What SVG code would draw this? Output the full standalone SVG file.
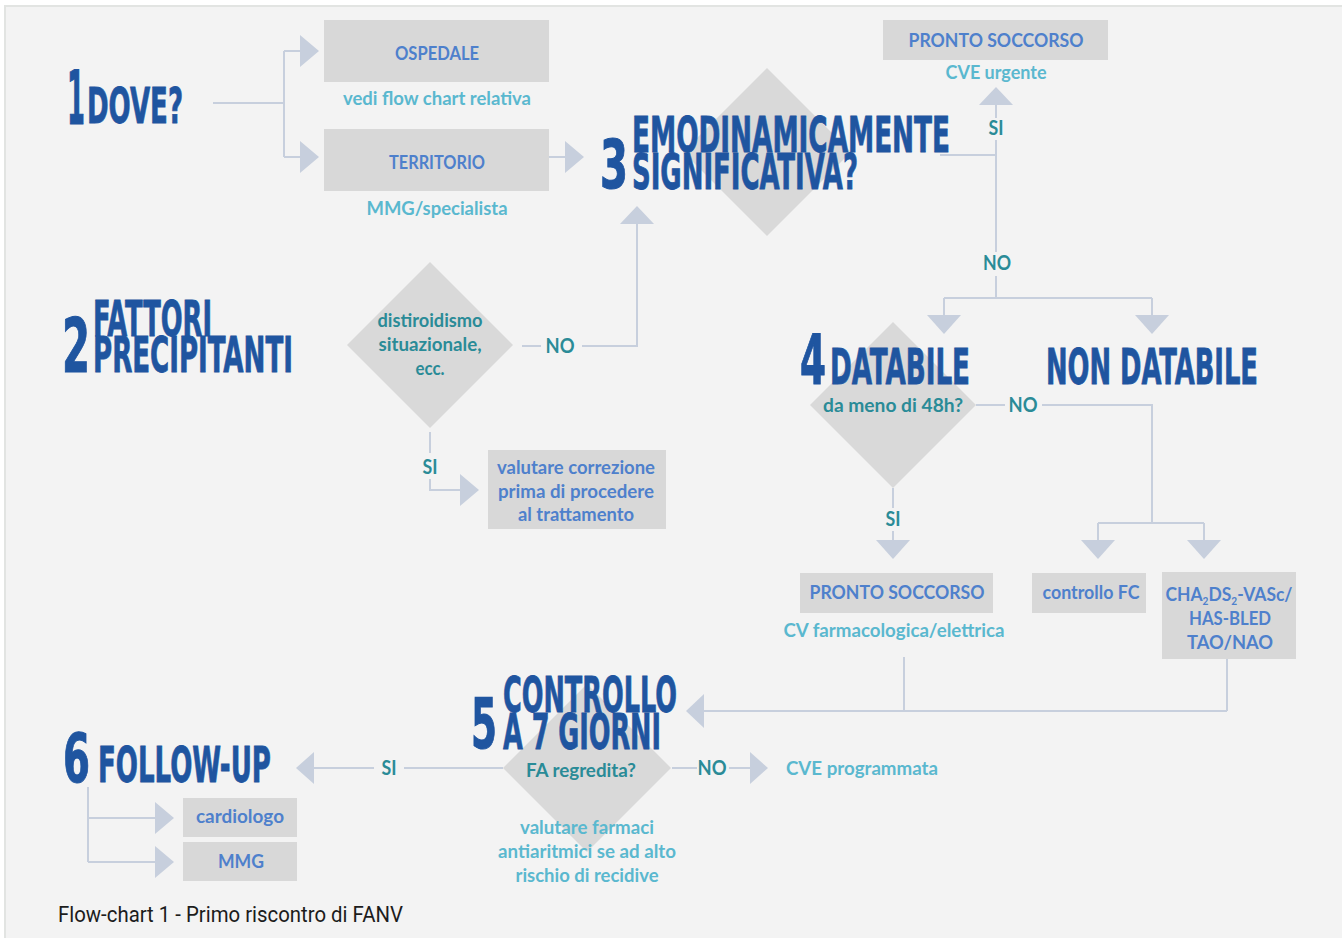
<svg xmlns="http://www.w3.org/2000/svg" width="1342" height="938" viewBox="0 0 1342 938">
  <style>
    .panel { fill: #f3f3f3; stroke: #e2e4e2; stroke-width: 2; }
    .box { fill: #d8d8d8; }
    .dia { fill: #d9d9d9; }
    .ttl { font-family: "DejaVu Sans Condensed", "DejaVu Sans", sans-serif; font-weight: bold; font-size: 49px; fill: #1f55a0; stroke: #1f55a0; stroke-width: 0.8; }
    .num { font-family: "DejaVu Sans Condensed", "DejaVu Sans", sans-serif; font-weight: bold; fill: #1f55a0; stroke: #1f55a0; stroke-width: 1; }
    .bx { font-family: Lato, "Open Sans", sans-serif; font-weight: 700; font-size: 19px; fill: #4e80cc; text-anchor: middle; }
    .sub { font-family: Lato, "Open Sans", sans-serif; font-weight: 700; font-size: 19px; fill: #5ab8cf; text-anchor: middle; }
    .q { font-family: Lato, "Open Sans", sans-serif; font-weight: 700; font-size: 19px; fill: #2a8b97; text-anchor: middle; }
    .lbl { font-family: Lato, "Open Sans", sans-serif; font-weight: 700; font-size: 20px; fill: #2a8b97; text-anchor: middle; }
    .cap { font-family: Roboto, "Liberation Sans", sans-serif; font-size: 22px; fill: #1c1c1c; }
    .ln { fill: none; stroke: #c7cfdd; stroke-width: 2; }
    .tri { fill: #c7cfdd; }
  </style>

  <!-- page panel -->
  <rect class="panel" x="5" y="6" width="1345" height="940"/>

  <!-- connectors -->
  <g id="connectors">
    <!-- 1: dove? -> ospedale / territorio -->
    <path class="ln" d="M213 103 H284 M284 51 V157 M284 51 H301 M284 157 H301"/>
    <polygon class="tri" points="300,35 319,51 300,67"/>
    <polygon class="tri" points="300,141 319,157 300,173"/>
    <!-- territorio -> 3 -->
    <path class="ln" d="M549 157 H566"/>
    <polygon class="tri" points="565,141 584,157 565,173"/>
    <!-- 2 NO -> 3 -->
    <path class="ln" d="M522 346 H541 M582 346 H637 V223"/>
    <polygon class="tri" points="620,224 637,206 654,224"/>
    <!-- 2 SI -> valutare correzione -->
    <path class="ln" d="M430 432 V453 M430 479 V490 H461"/>
    <polygon class="tri" points="460,474 479,490 460,506"/>
    <!-- 3 SI / NO -->
    <path class="ln" d="M940 155 H996 M996 104 V118 M996 140 V252 M996 276 V298 M944 298 H1152 M944 298 V316 M1152 298 V316"/>
    <polygon class="tri" points="979,105 996,87 1013,105"/>
    <polygon class="tri" points="927,315 944,334 961,315"/>
    <polygon class="tri" points="1135,315 1152,334 1169,315"/>
    <!-- 4 NO -> controllo FC / CHA2DS2-VASc -->
    <path class="ln" d="M976 405 H1005 M1042 405 H1152 V523 M1098 523 H1204 M1098 523 V541 M1204 523 V541"/>
    <polygon class="tri" points="1081,540 1098,559 1115,540"/>
    <polygon class="tri" points="1187,540 1204,559 1221,540"/>
    <!-- 4 SI -> pronto soccorso -->
    <path class="ln" d="M893 488 V508 M893 531 V541"/>
    <polygon class="tri" points="876,540 893,559 910,540"/>
    <!-- -> 5 -->
    <path class="ln" d="M904 657 V711 M1227 659 V711 M703 711 H1227"/>
    <polygon class="tri" points="704,694 686,711 704,728"/>
    <!-- 5 SI -> 6 ; 5 NO -> CVE programmata -->
    <path class="ln" d="M503 768 H404 M374 768 H313"/>
    <polygon class="tri" points="314,752 296,768 314,784"/>
    <path class="ln" d="M672 768 H697 M729 768 H751"/>
    <polygon class="tri" points="750,752 768,768 750,784"/>
    <!-- 6 -> cardiologo / MMG -->
    <path class="ln" d="M88 787 V862 M88 818 H156 M88 862 H156"/>
    <polygon class="tri" points="155,802 174,818 155,834"/>
    <polygon class="tri" points="155,846 174,862 155,878"/>
  </g>

  <!-- step 1 -->
  <g id="step1">
    <text class="num" transform="translate(67 124) scale(0.6 1)" font-size="74" textLength="30" lengthAdjust="spacingAndGlyphs">1</text>
    <text class="ttl" transform="translate(87 123) scale(0.6 1)" font-size="52" textLength="160" lengthAdjust="spacingAndGlyphs">DOVE?</text>
  </g>
  <g id="ospedale">
    <rect class="box" x="324" y="20" width="225" height="62"/>
    <text class="bx" x="437" y="60" textLength="84" lengthAdjust="spacingAndGlyphs">OSPEDALE</text>
    <text class="sub" x="437" y="105" textLength="188" lengthAdjust="spacingAndGlyphs">vedi flow chart relativa</text>
  </g>
  <g id="territorio">
    <rect class="box" x="324" y="129" width="225" height="62"/>
    <text class="bx" x="437" y="169" textLength="96" lengthAdjust="spacingAndGlyphs">TERRITORIO</text>
    <text class="sub" x="437" y="215" textLength="141" lengthAdjust="spacingAndGlyphs">MMG/specialista</text>
  </g>

  <!-- step 3 -->
  <g id="step3">
    <polygon class="dia" points="767,68 851,152 767,236 683,152"/>
    <text class="num" transform="translate(600 188) scale(0.6 1)" font-size="68" textLength="46.7" lengthAdjust="spacingAndGlyphs">3</text>
    <text class="ttl" transform="translate(632 152) scale(0.6 1)" textLength="530" lengthAdjust="spacingAndGlyphs">EMODINAMICAMENTE</text>
    <text class="ttl" transform="translate(632 189) scale(0.6 1)" textLength="376.7" lengthAdjust="spacingAndGlyphs">SIGNIFICATIVA?</text>
    <text class="lbl" x="996" y="135" textLength="15" lengthAdjust="spacingAndGlyphs">SI</text>
    <text class="lbl" x="997" y="270" textLength="28" lengthAdjust="spacingAndGlyphs">NO</text>
  </g>
  <g id="pronto-soccorso-urgente">
    <rect class="box" x="883" y="20" width="225" height="40"/>
    <text class="bx" x="996" y="47" textLength="175" lengthAdjust="spacingAndGlyphs">PRONTO SOCCORSO</text>
    <text class="sub" x="996" y="79" textLength="101" lengthAdjust="spacingAndGlyphs">CVE urgente</text>
  </g>

  <!-- step 2 -->
  <g id="step2">
    <text class="num" transform="translate(62 372) scale(0.6 1)" font-size="74" textLength="46.7" lengthAdjust="spacingAndGlyphs">2</text>
    <text class="ttl" transform="translate(93 336) scale(0.6 1)" textLength="198.3" lengthAdjust="spacingAndGlyphs">FATTORI</text>
    <text class="ttl" transform="translate(93 372) scale(0.6 1)" textLength="333.3" lengthAdjust="spacingAndGlyphs">PRECIPITANTI</text>
  </g>
  <g id="fattori-diamond">
    <polygon class="dia" points="430,262 513,345 430,428 347,345"/>
    <text class="q" x="430" y="327" textLength="105" lengthAdjust="spacingAndGlyphs">distiroidismo</text>
    <text class="q" x="430" y="351" textLength="103" lengthAdjust="spacingAndGlyphs">situazionale,</text>
    <text class="q" x="430" y="375" textLength="29" lengthAdjust="spacingAndGlyphs">ecc.</text>
    <text class="lbl" x="560" y="353" textLength="29" lengthAdjust="spacingAndGlyphs">NO</text>
    <text class="lbl" x="430" y="474" textLength="15" lengthAdjust="spacingAndGlyphs">SI</text>
  </g>
  <g id="correzione">
    <rect class="box" x="488" y="450" width="178" height="79"/>
    <text class="bx" x="576" y="474" textLength="158" lengthAdjust="spacingAndGlyphs">valutare correzione</text>
    <text class="bx" x="576" y="498" textLength="156" lengthAdjust="spacingAndGlyphs">prima di procedere</text>
    <text class="bx" x="576" y="521" textLength="116" lengthAdjust="spacingAndGlyphs">al trattamento</text>
  </g>

  <!-- step 4 -->
  <g id="step4">
    <polygon class="dia" points="893,322 976,405 893,488 810,405"/>
    <text class="num" transform="translate(800 384) scale(0.6 1)" font-size="70" textLength="43.3" lengthAdjust="spacingAndGlyphs">4</text>
    <text class="ttl" transform="translate(830 384) scale(0.6 1)" textLength="233.3" lengthAdjust="spacingAndGlyphs">DATABILE</text>
    <text class="q" x="893" y="412" textLength="140" lengthAdjust="spacingAndGlyphs">da meno di 48h?</text>
    <text class="lbl" x="1023" y="412" textLength="29" lengthAdjust="spacingAndGlyphs">NO</text>
    <text class="lbl" x="893" y="526" textLength="15" lengthAdjust="spacingAndGlyphs">SI</text>
  </g>
  <g id="non-databile">
    <text class="ttl" transform="translate(1046 384) scale(0.6 1)" textLength="353.3" lengthAdjust="spacingAndGlyphs">NON DATABILE</text>
  </g>
  <g id="pronto-soccorso-cv">
    <rect class="box" x="800" y="573" width="193" height="40"/>
    <text class="bx" x="897" y="599" textLength="175" lengthAdjust="spacingAndGlyphs">PRONTO SOCCORSO</text>
    <text class="sub" x="894" y="637" textLength="221" lengthAdjust="spacingAndGlyphs">CV farmacologica/elettrica</text>
  </g>
  <g id="controllo-fc">
    <rect class="box" x="1032" y="573" width="114" height="40"/>
    <text class="bx" x="1091" y="599" textLength="97" lengthAdjust="spacingAndGlyphs">controllo FC</text>
  </g>
  <g id="cha2ds2-vasc">
    <rect class="box" x="1162" y="572" width="134" height="87"/>
    <text class="bx" x="1229" y="601" textLength="127" lengthAdjust="spacingAndGlyphs">CHA<tspan font-size="11" dy="4">2</tspan><tspan dy="-4">DS</tspan><tspan font-size="11" dy="4">2</tspan><tspan dy="-4">-VASc/</tspan></text>
    <text class="bx" x="1230" y="625" textLength="82" lengthAdjust="spacingAndGlyphs">HAS-BLED</text>
    <text class="bx" x="1230" y="649" textLength="86" lengthAdjust="spacingAndGlyphs">TAO/NAO</text>
  </g>

  <!-- step 5 -->
  <g id="step5">
    <polygon class="dia" points="587,684 671,768 587,852 503,768"/>
    <text class="num" transform="translate(471 748) scale(0.6 1)" font-size="70" textLength="43.3" lengthAdjust="spacingAndGlyphs">5</text>
    <text class="ttl" transform="translate(503 712) scale(0.6 1)" textLength="290" lengthAdjust="spacingAndGlyphs">CONTROLLO</text>
    <text class="ttl" transform="translate(503 749) scale(0.6 1)" textLength="263.3" lengthAdjust="spacingAndGlyphs">A 7 GIORNI</text>
    <text class="q" x="581" y="777" textLength="110" lengthAdjust="spacingAndGlyphs">FA regredita?</text>
    <text class="lbl" x="389" y="775" textLength="15" lengthAdjust="spacingAndGlyphs">SI</text>
    <text class="lbl" x="712" y="775" textLength="29" lengthAdjust="spacingAndGlyphs">NO</text>
    <text class="sub" x="587" y="834" textLength="134" lengthAdjust="spacingAndGlyphs">valutare farmaci</text>
    <text class="sub" x="587" y="858" textLength="178" lengthAdjust="spacingAndGlyphs">antiaritmici se ad alto</text>
    <text class="sub" x="587" y="882" textLength="143" lengthAdjust="spacingAndGlyphs">rischio di recidive</text>
  </g>
  <g id="cve-programmata">
    <text class="sub" x="862" y="775" textLength="152" lengthAdjust="spacingAndGlyphs">CVE programmata</text>
  </g>

  <!-- step 6 -->
  <g id="step6">
    <text class="num" transform="translate(63 782) scale(0.6 1)" font-size="68" textLength="45" lengthAdjust="spacingAndGlyphs">6</text>
    <text class="ttl" transform="translate(98 782) scale(0.6 1)" textLength="288.3" lengthAdjust="spacingAndGlyphs">FOLLOW-UP</text>
  </g>
  <g id="cardiologo">
    <rect class="box" x="183" y="798" width="114" height="39"/>
    <text class="bx" x="240" y="823" textLength="88" lengthAdjust="spacingAndGlyphs">cardiologo</text>
  </g>
  <g id="mmg">
    <rect class="box" x="183" y="842" width="114" height="39"/>
    <text class="bx" x="241" y="868" textLength="46" lengthAdjust="spacingAndGlyphs">MMG</text>
  </g>

  <text class="cap" transform="translate(58 922) scale(0.88 1)" textLength="392" lengthAdjust="spacingAndGlyphs">Flow-chart 1 - Primo riscontro di FANV</text>
</svg>
